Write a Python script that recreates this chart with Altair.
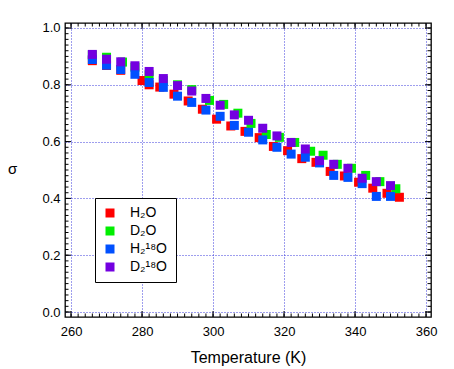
import altair as alt
import pandas as pd

# ---- data ----
T_H2O = [266, 270, 274, 280, 282, 285, 289, 293, 297, 301, 305, 309, 313, 317, 321, 325, 329, 333, 337, 341, 345, 349, 352.5]
S_H2O = [0.885, 0.868, 0.851, 0.815, 0.800, 0.792, 0.767, 0.743, 0.714, 0.679, 0.655, 0.636, 0.614, 0.583, 0.568, 0.540, 0.527, 0.495, 0.479, 0.457, 0.436, 0.418, 0.404]

T_D2O = [266, 270, 274.5, 278, 282, 286, 290, 294, 299, 303, 307, 310.7, 315, 318.7, 323, 327.5, 331, 335, 339, 343, 347, 351.5]
S_D2O = [0.905, 0.897, 0.880, 0.862, 0.835, 0.815, 0.800, 0.783, 0.745, 0.731, 0.700, 0.664, 0.625, 0.615, 0.597, 0.566, 0.552, 0.520, 0.506, 0.481, 0.459, 0.434]

T_H218O = [266, 270, 274, 278, 282, 286, 290, 294, 298, 302, 306, 310, 314, 318, 322, 326, 330, 334, 338, 342, 346, 350]
S_H218O = [0.889, 0.869, 0.854, 0.837, 0.808, 0.791, 0.760, 0.738, 0.711, 0.689, 0.657, 0.633, 0.606, 0.580, 0.556, 0.545, 0.525, 0.481, 0.474, 0.452, 0.407, 0.407]

T_D218O = [266, 270, 274, 278, 282, 286, 290, 294, 298, 302, 306, 310, 314, 318, 322, 326, 330, 334, 338, 342, 346, 350]
S_D218O = [0.907, 0.890, 0.881, 0.867, 0.847, 0.822, 0.797, 0.778, 0.752, 0.728, 0.694, 0.675, 0.647, 0.620, 0.597, 0.574, 0.533, 0.520, 0.506, 0.471, 0.459, 0.445]

SERIES = ["H₂O", "D₂O", "H₂¹⁸O", "D₂¹⁸O"]
COLORS = ["#ff0000", "#00ee00", "#0050ff", "#7300e0"]

X_MAJOR = [260, 280, 300, 320, 340, 360]
Y_MAJOR = [0.0, 0.2, 0.4, 0.6, 0.8, 1.0]
X_MINOR = [260 + 2 * i for i in range(51)]
Y_MINOR = [round(0.02 * i, 2) for i in range(51)]

X_DOMAIN = [258.3, 361.4]
Y_DOMAIN = [-0.0176, 1.0176]

rows = []
for name, ts, ss in zip(SERIES, [T_H2O, T_D2O, T_H218O, T_D218O], [S_H2O, S_D2O, S_H218O, S_D218O]):
    for t, s in zip(ts, ss):
        rows.append({"T": t, "sigma": s, "series": name})
df = pd.DataFrame(rows)

FONT = "Liberation Sans"
xs = alt.Scale(domain=X_DOMAIN, nice=False, zero=False)
ys = alt.Scale(domain=Y_DOMAIN, nice=False, zero=False)
GRID = dict(grid=True, gridColor="#3c3cdc", gridDash=[1, 2], gridWidth=1, gridOpacity=1)

points = alt.Chart(df).mark_square(size=81, opacity=1, strokeWidth=0).encode(
    x=alt.X("T:Q", scale=xs, axis=alt.Axis(
        orient="bottom", values=X_MAJOR, format="d", ticks=False, domain=False,
        labelPadding=8, labelFont=FONT, labelFontSize=13, labelColor="black",
        labelFlush=False, labelOverlap=False,
        title="Temperature (K)", titleFont=FONT, titleFontSize=16, titleFontWeight="normal",
        titleColor="black", titlePadding=11, **GRID)),
    y=alt.Y("sigma:Q", scale=ys, axis=alt.Axis(
        orient="left", values=Y_MAJOR, format=".1f", ticks=False, domain=False,
        labelPadding=5, labelFont=FONT, labelFontSize=13, labelColor="black",
        labelFlush=False, labelOverlap=False,
        title="σ", titleFont=FONT, titleFontSize=15, titleFontWeight="normal", titleColor="black",
        titleAngle=0, titleAlign="center", titleBaseline="middle", titleX=-53, titleY=145,
        **GRID)),
    color=alt.Color("series:N", scale=alt.Scale(domain=SERIES, range=COLORS), legend=alt.Legend(
        orient="none", legendX=30, legendY=175, title=None, fillColor="white",
        strokeColor="black", padding=8, symbolType="square", symbolSize=81,
        symbolStrokeWidth=0, symbolOpacity=1, labelFont=FONT, labelFontSize=14,
        labelColor="black", labelOffset=13, rowPadding=4, cornerRadius=0)),
)


def tick_marks(vals, side, length):
    c = alt.Chart(pd.DataFrame({"v": vals}))
    half = length / 2.0
    if side in ("bottom", "top"):
        edge = Y_DOMAIN[0] if side == "bottom" else Y_DOMAIN[1]
        off = -half if side == "bottom" else half
        return c.mark_tick(orient="vertical", size=length, thickness=1, color="black",
                           opacity=1, yOffset=off).encode(
            x=alt.X("v:Q", scale=xs, axis=None),
            y=alt.YDatum(edge, type="quantitative", scale=ys, axis=None),
        )
    edge = X_DOMAIN[0] if side == "left" else X_DOMAIN[1]
    off = half if side == "left" else -half
    return c.mark_tick(orient="horizontal", size=length, thickness=1, color="black",
                       opacity=1, xOffset=off).encode(
        y=alt.Y("v:Q", scale=ys, axis=None),
        x=alt.XDatum(edge, type="quantitative", scale=xs, axis=None),
    )


layers = [points]
for side in ("bottom", "top"):
    layers.append(tick_marks(X_MINOR, side, 3.5))
    layers.append(tick_marks(X_MAJOR, side, 6))
for side in ("left", "right"):
    layers.append(tick_marks(Y_MINOR, side, 3.5))
    layers.append(tick_marks(Y_MAJOR, side, 6))

chart = alt.layer(*layers).resolve_axis(x="independent", y="independent").properties(
    width=366, height=294, autosize="none",
    padding={"left": 57, "top": 15, "right": 15, "bottom": 52},
).configure_view(stroke="black", strokeWidth=1.3)

chart.save("out.html", embed_options={"renderer": "svg", "actions": False})
